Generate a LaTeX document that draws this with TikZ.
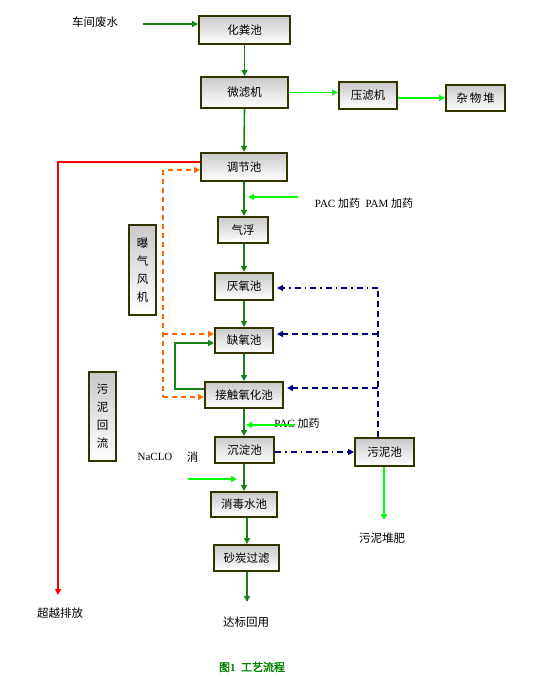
\documentclass[tikz,border=0pt]{standalone}
\usepackage{fontspec}
\setmainfont{Liberation Serif}
\newfontfamily\cjk{Noto Sans CJK SC}[AutoFakeBold=2]
\usetikzlibrary{arrows.meta}
\definecolor{boxc}{RGB}{51,51,0}
\definecolor{dgreen}{RGB}{20,130,20}
\definecolor{bgreen}{RGB}{0,255,0}
\definecolor{capg}{RGB}{0,128,0}
\definecolor{navy}{RGB}{0,0,128}
\definecolor{orng}{RGB}{255,102,0}
\tikzset{
  box/.style={draw=boxc, line width=2pt, top color=gray!42, bottom color=white,
    font=\cjk\fontsize{11.5}{14}\selectfont, inner sep=0pt, anchor=center},
  vbox/.style={box, align=center, font=\cjk\fontsize{11.5}{18}\selectfont},
  clbl/.style={font=\cjk\fontsize{11.5}{14}\selectfont, inner sep=0pt, anchor=center},
  mlbl/.style={font=\fontsize{11}{14}\selectfont, inner sep=0pt, anchor=center},
  tip/.style={-{Triangle[length=6pt,width=6pt]}},
  dg/.style={draw=dgreen, line width=1.6pt},
  bg/.style={draw=bgreen, line width=1.6pt},
  rd/.style={draw=red, line width=1.6pt},
  od/.style={draw=orng, line width=1.6pt, dash pattern=on 5pt off 4pt},
  nd/.style={draw=navy, line width=1.6pt, dash pattern=on 6pt off 4pt},
  ndd/.style={draw=navy, line width=1.6pt, dash pattern=on 6pt off 4pt on 1.5pt off 4pt},
}
\begin{document}
\begin{tikzpicture}[x=1pt,y=-1pt]
\useasboundingbox (0,0) rectangle (549,692);
% boxes
\node[box, minimum width=91pt, minimum height=28pt] (hfc) at (244.5,30) {化粪池};
\node[box, minimum width=87pt, minimum height=31pt] (wlj) at (244.5,92.5) {微滤机};
\node[box, minimum width=58pt, minimum height=27pt] (ylj) at (368,95.5) {压滤机};
\node[box, minimum width=59pt, minimum height=26pt] (zwd) at (475.5,98) {杂\,物\,堆};
\node[box, minimum width=86pt, minimum height=28pt] (tjc) at (244,167) {调节池};
\node[box, minimum width=50pt, minimum height=26pt] (qf) at (243,230) {气浮};
\node[box, minimum width=58pt, minimum height=27pt] (yyc) at (244,286.5) {厌氧池};
\node[box, minimum width=58pt, minimum height=25pt] (qyc) at (244,340.5) {缺氧池};
\node[box, minimum width=78pt, minimum height=26pt] (jc) at (244,395) {接触氧化池};
\node[box, minimum width=59pt, minimum height=26pt] (cdc) at (244.5,450) {沉淀池};
\node[box, minimum width=59pt, minimum height=28pt] (wnc) at (384.5,452) {污泥池};
\node[box, minimum width=66pt, minimum height=25pt] (xds) at (244,504.5) {消毒水池};
\node[box, minimum width=65pt, minimum height=26pt] (stgl) at (246.5,558) {砂炭过滤};
\node[vbox, minimum width=27pt, minimum height=90pt] (bq) at (142.5,270) {曝\\气\\风\\机};
\node[vbox, minimum width=27pt, minimum height=89pt] (wnhl) at (102.5,416.5) {污\\泥\\回\\流};
% labels
\node[clbl] (tin) at (95,22) {车间废水};
\node[mlbl] (tpac1) at (364,203) {PAC {\cjk 加药}\ \ PAM {\cjk 加药}};
\node[mlbl] (tpac2) at (297,423) {PAC {\cjk 加药}};
\node[mlbl] (tna) at (155,457) {NaCLO};
\node[clbl] (txiao) at (192.5,457) {消};
\node[clbl] (tdb) at (246,622) {达标回用};
\node[clbl] (tyf) at (382,538) {污泥堆肥};
\node[clbl] (tcy) at (60,613) {超越排放};
\node[font=\bfseries\fontsize{11}{13}\selectfont, text=capg, inner sep=0pt] (cap) at (252,667) {{\cjk 图}1\ \ {\cjk 工艺流程}};
% coordinates
\coordinate (in1) at (143,24);
\coordinate (r1) at (58,162);
\coordinate (r2) at (58,595);
\coordinate (o1) at (163,170);
\coordinate (o2) at (163,334);
\coordinate (o3) at (163,397);
\coordinate (p1) at (298,197);
\coordinate (p2) at (295,425);
\coordinate (n1) at (188,479);
\coordinate (n2) at (237,479);
\coordinate (lp1) at (175,389);
\coordinate (lp2) at (175,343);
\coordinate (b1) at (378,288);
\coordinate (b2) at (378,334);
\coordinate (b3) at (378,388);
\coordinate (b4) at (378,437);
\coordinate (e1) at (247,602);
\coordinate (e2) at (384,520);
% main flow
\draw[dg,tip] (in1) -- (in1 -| hfc.west);
\draw[dg,tip] (hfc.south) -- (wlj.north);
\draw[bg,tip] (wlj.east) -- (wlj.east -| ylj.west);
\draw[bg,tip] (zwd.west -| ylj.east) -- (zwd.west);
\draw[dg,tip] (wlj.south) -- (tjc.north);
\draw[dg,tip] (tjc.south) -- (qf.north -| tjc.south);
\draw[dg,tip] (qf.south -| yyc.north) -- (yyc.north);
\draw[dg,tip] (yyc.south) -- (qyc.north);
\draw[dg,tip] (qyc.south) -- (jc.north);
\draw[dg,tip] (jc.south) -- (cdc.north -| jc.south);
\draw[dg,tip] (cdc.south -| xds.north) -- (xds.north);
\draw[dg,tip] (xds.south -| e1) -- (stgl.north -| e1);
\draw[dg,tip] (stgl.south -| e1) -- (e1);
% additions
\draw[bg,tip] (p1) -- ([xshift=4pt]p1 -| tjc.south);
\draw[bg,tip] (p2) -- ([xshift=2pt]p2 -| jc.south);
\draw[bg,tip] (n1) -- (n2);
% loop
\draw[dg,tip] (lp1 -| jc.west) -- (lp1) -- (lp2) -- (lp2 -| qyc.west);
% red bypass
\draw[rd,tip] (r1 -| tjc.west) -- (r1) -- (r2);
% orange air
\draw[od,tip] ([xshift=5pt]o1) -- (o1 -| tjc.west);
\draw[od] (o1) -- (o3);
\draw[od,tip] (o2) -- (o2 -| qyc.west);
\draw[od,tip] (o3) -- (o3 -| jc.west);
% navy sludge return
\draw[nd] (b4) -- (b1);
\draw[ndd,tip] (b1) -- ([xshift=3pt]b1 -| yyc.east);
\draw[nd,tip] (b2) -- ([xshift=3pt]b2 -| qyc.east);
\draw[nd,tip] (b3) -- ([xshift=3pt]b3 -| jc.east);
\draw[ndd,tip] (cdc.east |- 0,452) -- (wnc.west |- 0,452);
\draw[bg,tip] (wnc.south -| e2) -- (e2);
\end{tikzpicture}
\end{document}
